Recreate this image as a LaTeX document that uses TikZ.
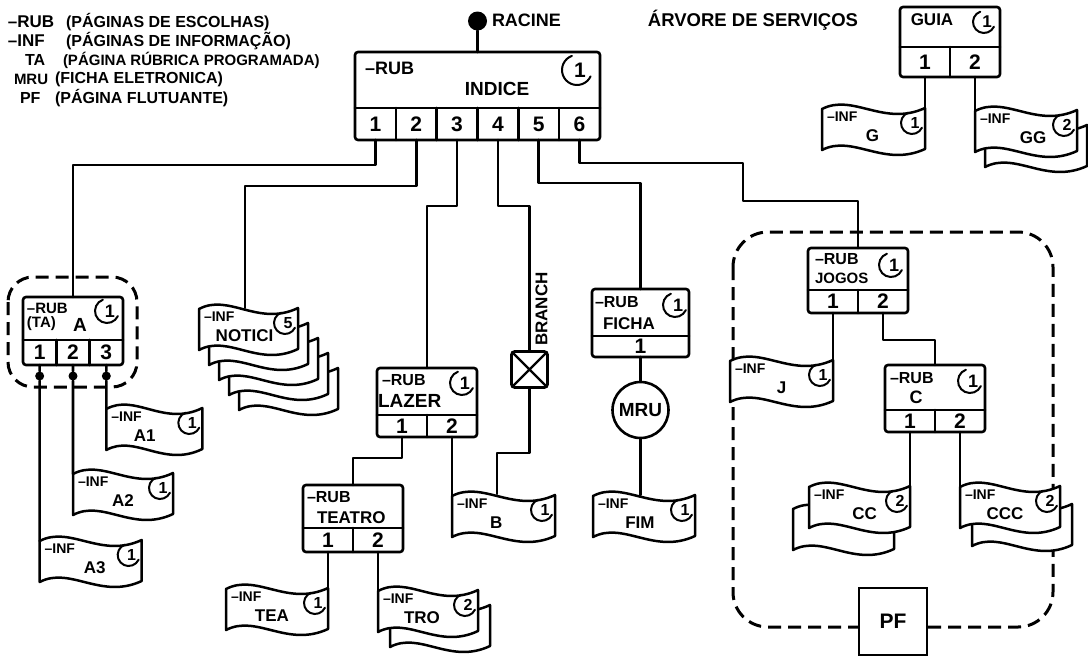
\documentclass[tikz,border=0pt]{standalone}
\usepackage{fontspec}
\setmainfont{Liberation Sans}
\usetikzlibrary{calc}
\newcommand\fs[1]{\fontsize{#1}{#1}\selectfont\bfseries}
\tikzset{
  wire/.style={line width=2.6pt, line cap=round, line join=round},
  frame/.style={draw, line width=2.6pt, rounded corners=3pt, inner sep=0pt, outer sep=0pt, anchor=north west},
  lbl/.style={inner sep=0pt, outer sep=0pt},
  celltxt/.style={lbl, font=\fs{21}},
  dashbox/.style={line width=3pt, dash pattern=on 13pt off 7pt},
  flagline/.style={line width=2.5pt, fill=white, line join=round},
  arcline/.style={line width=2pt, line cap=round},
  dot/.style={circle, fill=black, inner sep=0pt, minimum size=9pt},
}
% number with arc: name, cx, cy, r, number, fontsize
\newcommand\numarc[6]{%
  \draw[arcline] ({#2+#4*cos(110)},{#3-#4*sin(110)}) arc[start angle=110,end angle=335,radius=#4pt];
  \node[lbl, font=\fs{#6}] (#1) at ({#2+3},{#3}) {#5};}
% box with cells: name, x1, y1, x2, y2, ydiv, ncells
\newcommand\rbox[7]{%
  \pgfmathsetmacro\bw{#4-#2}\pgfmathsetmacro\bh{#5-#3}%
  \node[frame, minimum width=\bw pt, minimum height=\bh pt] (#1) at (#2,#3) {};
  \draw[wire] (#2,#6) -- (#4,#6);
  \pgfmathsetmacro\cw{\bw/#7}\pgfmathsetmacro\ch{#5-#6}%
  \foreach \i in {1,...,#7}{%
    \node[celltxt, minimum width=\cw pt, minimum height=\ch pt, anchor=north west] (#1-\i) at ({#2+(\i-1)*\cw},#6) {\i};}
  \ifnum#7>1
  \foreach \i in {2,...,#7}{\draw[wire] ({#2+(\i-1)*\cw},#6) -- ({#2+(\i-1)*\cw},#5);}
  \fi}
% wavy page outline: x, y, w
\newcommand\flagpath[3]{%
  \draw[flagline] (#1,{#2+4}) .. controls ({#1+0.3*#3},{#2-12}) and ({#1+0.6*#3},{#2+22}) .. ({#1+#3},{#2+3})
    -- ({#1+#3},{#2+44}) .. controls ({#1+0.6*#3},{#2+63}) and ({#1+0.3*#3},{#2+29}) .. (#1,{#2+45}) -- cycle;}
% info page: name, x, y, w, number, label, label x fraction
\newcommand\flag[7]{%
  \flagpath{#2}{#3}{#4}%
  \node[lbl, minimum width=#4pt, minimum height=45pt, anchor=north west] (#1) at (#2,#3) {};
  \coordinate (#1-tl) at (#2,{#3+4});
  \coordinate (#1-tr) at ({#2+#4},{#3+3});
  \node[lbl, font=\fs{14}, anchor=west] (#1-inf) at ({#2+5},{#3+12}) {–INF};
  \node[lbl, font=\fs{17}] (#1-lab) at ({#2+#7*#4},{#3+31}) {#6};
  \numarc{#1-num}{#2+#4-13}{#3+18}{11}{#5}{16}}
\begin{document}
\begin{tikzpicture}[x=1pt,y=-1pt]
\useasboundingbox (0,0) rectangle (1088,657);
\fill[white] (0,0) rectangle (1088,657);

% legend
\node[lbl, font=\fs{17}, anchor=west] (l1a) at (8,22) {–RUB};
\node[lbl, font=\fs{16}, anchor=west] (l1b) at (66,22) {(PÁGINAS DE ESCOLHAS)};
\node[lbl, font=\fs{17}, anchor=west] (l2a) at (8,41) {–INF};
\node[lbl, font=\fs{16}, anchor=west] (l2b) at (66,41) {(PÁGINAS DE INFORMAÇÃO)};
\node[lbl, font=\fs{16}, anchor=west] (l3a) at (25,60) {TA};
\node[lbl, font=\fs{15}, anchor=west] (l3b) at (63,60) {(PÁGINA RÚBRICA PROGRAMADA)};
\node[lbl, font=\fs{15}, anchor=west] (l4a) at (14,79) {MRU};
\node[lbl, font=\fs{16}, anchor=west] (l4b) at (55,79) {(FICHA ELETRONICA)};
\node[lbl, font=\fs{16}, anchor=west] (l5a) at (20,98) {PF};
\node[lbl, font=\fs{16}, anchor=west] (l5b) at (55,98) {(PÁGINA FLUTUANTE)};

\node[lbl, font=\fs{18.5}] (title) at (753,20) {ÁRVORE DE SERVIÇOS};

% dashed groups
\draw[dashbox, rounded corners=25pt] (8,277) rectangle (137,387);
\draw[dashbox, rounded corners=35pt] (733,232) rectangle (1053,627);

% root
\node[circle, fill=black, inner sep=0pt, minimum size=19pt] (root) at (477.5,21) {};
\node[lbl, font=\fs{18}, anchor=west] (rootl) at (492,20) {RACINE};

% INDICE
\rbox{I}{355}{52}{600}{140}{108}{6}
\node[lbl, font=\fs{18}, anchor=west] (I-rub) at (365,68) {–RUB};
\node[lbl, font=\fs{19}] (I-name) at (497,89) {INDICE};
\numarc{I-num}{577}{70}{15}{1}{21}

% A
\rbox{A}{23}{297}{123}{365}{340}{3}
\node[lbl, font=\fs{15}, anchor=west] (A-rub) at (27,308) {–RUB};
\node[lbl, font=\fs{15}, anchor=west] (A-ta) at (27,324) {(TA)};
\node[lbl, font=\fs{19}] (A-name) at (80,325) {A};
\numarc{A-num}{107}{311}{12}{1}{18}
\node[dot] (Ad1) at ([yshift=-11pt]A-1.south) {};
\node[dot] (Ad2) at ([yshift=-11pt]A-2.south) {};
\node[dot] (Ad3) at ([yshift=-11pt]A-3.south) {};

% LAZER
\rbox{LAZ}{377}{368}{477}{437}{415}{2}
\node[lbl, font=\fs{16}, anchor=west] (LAZ-rub) at (382,380) {–RUB};
\node[lbl, font=\fs{19}, anchor=west] (LAZ-name) at (378,401) {LAZER};
\numarc{LAZ-num}{462}{383}{12}{1}{18}

% TEATRO
\rbox{TT}{303}{485}{403}{552}{528}{2}
\node[lbl, font=\fs{16}, anchor=west] (TT-rub) at (307,497) {–RUB};
\node[lbl, font=\fs{17}, anchor=west] (TT-name) at (317,518) {TEATRO};

% BRANCH
\node[draw, line width=2.6pt, rounded corners=3pt, minimum size=36pt, inner sep=0pt] (BR) at (529.5,369.5) {};
\draw[line width=2.2pt] ([shift={(3pt,-3pt)}]BR.north west) -- ([shift={(-3pt,3pt)}]BR.south east)
  ([shift={(-3pt,-3pt)}]BR.north east) -- ([shift={(3pt,3pt)}]BR.south west);
\node[lbl, font=\fs{17}, rotate=90] (BR-l) at (541.5,309) {BRANCH};

% FICHA
\rbox{FI}{592}{289}{689}{357}{336}{1}
\node[lbl, font=\fs{16}, anchor=west] (FI-rub) at (595,302) {–RUB};
\node[lbl, font=\fs{17}, anchor=west] (FI-name) at (603,324) {FICHA};
\numarc{FI-num}{675}{305}{12}{1}{18}
\node[draw, circle, line width=2.6pt, minimum size=56pt, inner sep=0pt, font=\fs{19}] (MRU) at (640.5,410) {MRU};

% GUIA
\rbox{GU}{900}{7}{1000}{77}{47}{2}
\node[lbl, font=\fs{17}] (GU-name) at (932,20) {GUIA};
\numarc{GU-num}{984}{22}{11}{1}{17}

% JOGOS
\rbox{JO}{808}{248}{908}{313}{290}{2}
\node[lbl, font=\fs{16}, anchor=west] (JO-rub) at (815,259) {–RUB};
\node[lbl, font=\fs{15}, anchor=west] (JO-name) at (815,278) {JOGOS};
\numarc{JO-num}{891}{265}{12}{1}{18}

% C
\rbox{C}{885}{365}{985}{432}{410}{2}
\node[lbl, font=\fs{16}, anchor=west] (C-rub) at (890,378) {–RUB};
\node[lbl, font=\fs{18}] (C-name) at (916,397) {C};
\numarc{C-num}{970}{381}{12}{1}{18}

% PF
\node[draw, line width=2.6pt, fill=white, minimum width=68pt, minimum height=67pt, inner sep=0pt, font=\fs{21}] (PF) at (893,621.5) {PF};

% back pages
\foreach \k in {4,3,2,1}{\flagpath{199+10*\k}{305+15*\k}{99}}
\flagpath{390}{602}{100}
\flagpath{985}{122}{102}
\flagpath{793}{505}{101}
\flagpath{972}{501}{100}

% info pages
\flag{A1}{106.333}{405}{96}{1}{A1}{0.4}
\flag{A2}{73}{470}{100}{1}{A2}{0.5}
\flag{A3}{39.667}{537}{102}{1}{A3}{0.54}
\flag{NOT}{199}{305}{99}{5}{NOTICI}{0.46}
\flag{TEA}{226}{585}{102}{1}{TEA}{0.45}
\flag{TRO}{378}{587}{100}{2}{TRO}{0.44}
\flag{B}{452}{492}{103}{1}{B}{0.43}
\flag{FIM}{593}{492}{102}{1}{FIM}{0.46}
\flag{G}{822}{105}{103}{1}{G}{0.49}
\flag{GG}{975}{107}{102}{2}{GG}{0.57}
\flag{J}{730}{357}{103}{1}{J}{0.5}
\flag{CC}{809}{483}{101}{2}{CC}{0.55}
\flag{CCC}{960}{483}{100}{2}{CCC}{0.45}

% connectors
\draw[wire] (root) -- (I.north);
\draw[wire] (I-1.south) -- ++(0,25) -| (A.north);
\draw[wire] (I-2.south) -- ++(0,46) -| ($(NOT.north west)+(46,3)$);
\draw[wire] (I-3.south) -- ++(0,66) -| (LAZ.north);
\draw[wire] (I-4.south) -- ++(0,66) -| (BR.north);
\draw[wire] (I-5.south) -- ++(0,43) -| (FI.north);
\coordinate (j1) at (743,201);
\draw[wire] (I-6.south) -- ++(0,23) -| (j1) -| (JO.north);
\draw[wire] (A-1.south) -- (Ad1) -- (A3-tl);
\draw[wire] (A-2.south) -- (Ad2) -- (A2-tl);
\draw[wire] (A-3.south) -- (Ad3) -- (A1-tl);
\draw[wire] (BR.south) -- ++(0,64) -| ($(B.north west)+(45,2)$);
\draw[wire] (LAZ-1.south) -- ++(0,21) -| (TT.north);
\draw[wire] (LAZ-2.south) -- (B-tl);
\draw[wire] (TT-1.south) -- (TEA-tr);
\draw[wire] (TT-2.south) -- (TRO-tl);
\draw[wire] (FI-1.south) -- (MRU.north);
\draw[wire] (MRU.south) -- ($(MRU.south |- FIM.north)+(0,3)$);
\draw[wire] (GU-1.south) -- (G-tr);
\draw[wire] (GU-2.south) -- (GG-tl);
\draw[wire] (JO-1.south) -- (J-tr);
\draw[wire] (JO-2.south) -- ++(0,27) -| (C.north);
\draw[wire] (C-1.south) -- (CC-tr);
\draw[wire] (C-2.south) -- (CCC-tl);
\end{tikzpicture}
\end{document}
